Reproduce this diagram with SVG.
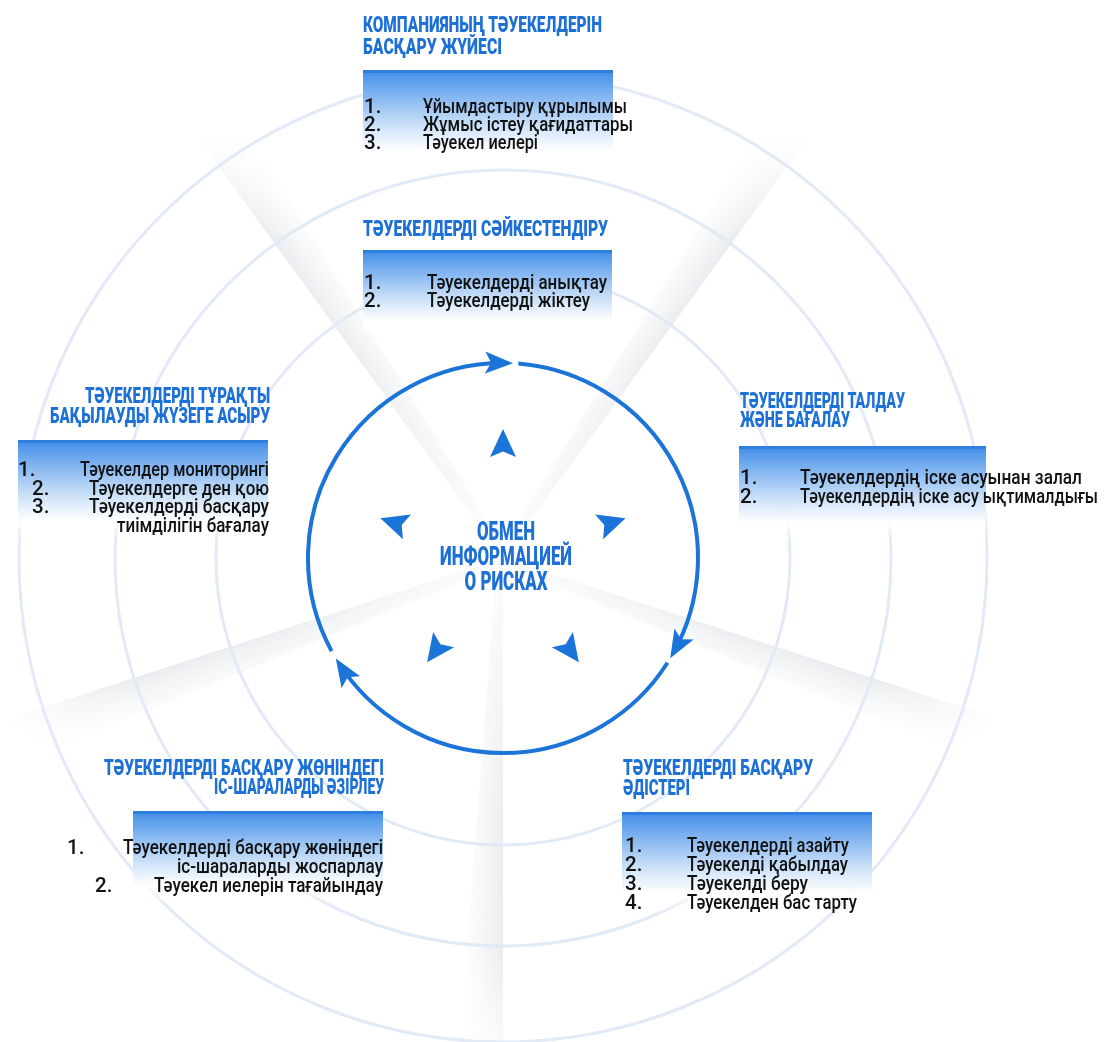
<svg xmlns="http://www.w3.org/2000/svg" width="1105" height="1042" viewBox="0 0 1105 1042">
<style>
.t{font-family:Roboto,"Liberation Sans",sans-serif;font-weight:900;font-size:22px;fill:#1d70d6}
.c{font-family:Roboto,"Liberation Sans",sans-serif;font-weight:900;font-size:25px;fill:#1d70d6;text-anchor:middle}
.i{font-family:Roboto,"Liberation Sans",sans-serif;font-weight:500;font-size:20.5px;fill:#111111}
.e{text-anchor:end}
.ring{fill:none;stroke:#e1eaf6;stroke-width:3}
.bar{fill:#2f7fe0}
.arc{fill:none;stroke:#1b74d8;stroke-width:4}
.ah{fill:#1b74d8}
</style>
<defs>
<linearGradient id="boxg" x1="0" y1="0" x2="0" y2="1">
<stop offset="0" stop-color="#438ee7"/>
<stop offset="0.15" stop-color="#69a6ee"/>
<stop offset="0.5" stop-color="#c2dbf7"/>
<stop offset="0.8" stop-color="#ffffff" stop-opacity="0.9"/>
<stop offset="1" stop-color="#ffffff" stop-opacity="0"/>
</linearGradient>
<linearGradient id="sg" x1="0" y1="0" x2="1" y2="0">
<stop offset="0" stop-color="#d3d8de" stop-opacity="0.5"/>
<stop offset="1" stop-color="#e8ebef" stop-opacity="0"/>
</linearGradient>
<radialGradient id="fade" gradientUnits="userSpaceOnUse" cx="503" cy="558" r="520">
<stop offset="0" stop-color="#222"/>
<stop offset="0.45" stop-color="#ddd"/>
<stop offset="0.75" stop-color="#fff"/>
<stop offset="1" stop-color="#000"/>
</radialGradient>
<mask id="sm" maskUnits="userSpaceOnUse" x="0" y="0" width="1105" height="1042">
<rect x="0" y="0" width="1105" height="1042" fill="url(#fade)"/>
</mask>
<polygon id="spoke" points="0,0 0,-520 46,-520 6,0"/>
<path id="ia" d="M0,-15 L13,13 L0,7.5 L-13,13 Z"/>
<marker id="m" viewBox="0 0 28 24" refX="23" refY="12" markerWidth="28" markerHeight="24" markerUnits="userSpaceOnUse" orient="auto">
<path d="M0,1 L28,12 L0,23 L6,12 Z" fill="#1b74d8"/>
</marker>
</defs>
<rect x="0" y="0" width="1105" height="1042" fill="#ffffff"/>
<g id="background">
<g mask="url(#sm)" fill="url(#sg)">
<use href="#spoke" transform="translate(503,558) rotate(36) scale(-1,1)"/>
<use href="#spoke" transform="translate(503,558) rotate(108)"/>
<use href="#spoke" transform="translate(503,558) rotate(180)"/>
<use href="#spoke" transform="translate(503,558) rotate(252) scale(-1,1)"/>
<use href="#spoke" transform="translate(503,558) rotate(324)"/>
</g>
<circle class="ring" cx="503" cy="558" r="287"/>
<circle class="ring" cx="503" cy="558" r="388"/>
<circle class="ring" cx="503" cy="558" r="484"/>
</g>
<g id="connectors">
<path class="arc" d="M331.6,651.1 A195,195 0 0 1 508.1,363.1" marker-end="url(#m)"/>
<path class="arc" d="M518.3,363.6 A195,195 0 0 1 672.7,654.0" marker-end="url(#m)"/>
<path class="arc" d="M667.5,662.8 A195,195 0 0 1 338.5,662.8" marker-end="url(#m)"/>
</g>
<g id="center">
<g class="ah">
<use href="#ia" transform="translate(503,558) rotate(0) translate(0,-114)"/>
<use href="#ia" transform="translate(503,558) rotate(72) translate(0,-114)"/>
<use href="#ia" transform="translate(503,558) rotate(144) translate(0,-114)"/>
<use href="#ia" transform="translate(503,558) rotate(216) translate(0,-114)"/>
<use href="#ia" transform="translate(503,558) rotate(288) translate(0,-114)"/>
</g>
<text class="c" x="506" y="540" textLength="58" lengthAdjust="spacingAndGlyphs">ОБМЕН</text>
<text class="c" x="506" y="565" textLength="132" lengthAdjust="spacingAndGlyphs">ИНФОРМАЦИЕЙ</text>
<text class="c" x="506" y="590" textLength="83" lengthAdjust="spacingAndGlyphs">О РИСКАХ</text>
</g>
<g id="node-system">
<text class="t" x="363" y="32" textLength="239" lengthAdjust="spacingAndGlyphs">КОМПАНИЯНЫҢ ТӘУЕКЕЛДЕРІН</text>
<text class="t" x="363" y="54" textLength="139" lengthAdjust="spacingAndGlyphs">БАСҚАРУ ЖҮЙЕСІ</text>
<rect x="363" y="71" width="250" height="100" fill="url(#boxg)"/>
<rect class="bar" x="363" y="70" width="250" height="3"/>
<text class="i" x="364" y="113">1.</text>
<text class="i" x="423" y="113" textLength="204" lengthAdjust="spacingAndGlyphs">Ұйымдастыру құрылымы</text>
<text class="i" x="364" y="131">2.</text>
<text class="i" x="423" y="131" textLength="210" lengthAdjust="spacingAndGlyphs">Жұмыс істеу қағидаттары</text>
<text class="i" x="364" y="149">3.</text>
<text class="i" x="423" y="149" textLength="115" lengthAdjust="spacingAndGlyphs">Тәуекел иелері</text>
</g>
<g id="node-identify">
<text class="t" x="363" y="236" textLength="245" lengthAdjust="spacingAndGlyphs">ТӘУЕКЕЛДЕРДІ СӘЙКЕСТЕНДІРУ</text>
<rect x="363" y="251" width="249" height="88" fill="url(#boxg)"/>
<rect class="bar" x="363" y="250" width="249" height="3"/>
<text class="i" x="364" y="289">1.</text>
<text class="i" x="427" y="289" textLength="180" lengthAdjust="spacingAndGlyphs">Тәуекелдерді анықтау</text>
<text class="i" x="364" y="307">2.</text>
<text class="i" x="427" y="307" textLength="163" lengthAdjust="spacingAndGlyphs">Тәуекелдерді жіктеу</text>
</g>
<g id="node-monitoring">
<text class="t e" x="270" y="403" textLength="185" lengthAdjust="spacingAndGlyphs">ТӘУЕКЕЛДЕРДІ ТҰРАҚТЫ</text>
<text class="t e" x="270" y="423" textLength="220" lengthAdjust="spacingAndGlyphs">БАҚЫЛАУДЫ ЖҮЗЕГЕ АСЫРУ</text>
<rect x="18" y="441" width="250" height="100" fill="url(#boxg)"/>
<rect class="bar" x="18" y="440" width="250" height="3"/>
<text class="i" x="18" y="476">1.</text>
<text class="i e" x="269" y="476" textLength="189" lengthAdjust="spacingAndGlyphs">Тәуекелдер мониторингі</text>
<text class="i" x="32" y="495">2.</text>
<text class="i e" x="269" y="495" textLength="180" lengthAdjust="spacingAndGlyphs">Тәуекелдерге ден қою</text>
<text class="i" x="32" y="513">3.</text>
<text class="i e" x="269" y="513" textLength="180" lengthAdjust="spacingAndGlyphs">Тәуекелдерді басқару</text>
<text class="i e" x="269" y="532" textLength="152" lengthAdjust="spacingAndGlyphs">тиімділігін бағалау</text>
</g>
<g id="node-analysis">
<text class="t" x="740" y="408" textLength="165" lengthAdjust="spacingAndGlyphs">ТӘУЕКЕЛДЕРДІ ТАЛДАУ</text>
<text class="t" x="740" y="427" textLength="110" lengthAdjust="spacingAndGlyphs">ЖӘНЕ БАҒАЛАУ</text>
<rect x="739" y="447" width="247" height="95" fill="url(#boxg)"/>
<rect class="bar" x="739" y="446" width="247" height="3"/>
<text class="i" x="740" y="484">1.</text>
<text class="i" x="800" y="484" textLength="282" lengthAdjust="spacingAndGlyphs">Тәуекелдердің іске асуынан залал</text>
<text class="i" x="740" y="503">2.</text>
<text class="i" x="800" y="503" textLength="298" lengthAdjust="spacingAndGlyphs">Тәуекелдердің іске асу ықтималдығы</text>
</g>
<g id="node-measures">
<text class="t e" x="384" y="775" textLength="280" lengthAdjust="spacingAndGlyphs">ТӘУЕКЕЛДЕРДІ БАСҚАРУ ЖӨНІНДЕГІ</text>
<text class="t e" x="384" y="794" textLength="170" lengthAdjust="spacingAndGlyphs">ІС-ШАРАЛАРДЫ ӘЗІРЛЕУ</text>
<rect x="133" y="812" width="250" height="92" fill="url(#boxg)"/>
<rect class="bar" x="133" y="811" width="250" height="3"/>
<text class="i" x="67" y="854">1.</text>
<text class="i e" x="383" y="854" textLength="260" lengthAdjust="spacingAndGlyphs">Тәуекелдерді басқару жөніндегі</text>
<text class="i e" x="383" y="873" textLength="206" lengthAdjust="spacingAndGlyphs">іс-шараларды жоспарлау</text>
<text class="i" x="95" y="892">2.</text>
<text class="i e" x="383" y="892" textLength="229" lengthAdjust="spacingAndGlyphs">Тәуекел иелерін тағайындау</text>
</g>
<g id="node-methods">
<text class="t" x="623" y="775" textLength="190" lengthAdjust="spacingAndGlyphs">ТӘУЕКЕЛДЕРДІ БАСҚАРУ</text>
<text class="t" x="623" y="795" textLength="67" lengthAdjust="spacingAndGlyphs">ӘДІСТЕРІ</text>
<rect x="622" y="813" width="250" height="100" fill="url(#boxg)"/>
<rect class="bar" x="622" y="812" width="250" height="3"/>
<text class="i" x="625" y="852">1.</text>
<text class="i" x="687" y="852" textLength="162" lengthAdjust="spacingAndGlyphs">Тәуекелдерді азайту</text>
<text class="i" x="625" y="871">2.</text>
<text class="i" x="687" y="871" textLength="161" lengthAdjust="spacingAndGlyphs">Тәуекелді қабылдау</text>
<text class="i" x="625" y="890">3.</text>
<text class="i" x="687" y="890" textLength="121" lengthAdjust="spacingAndGlyphs">Тәуекелді беру</text>
<text class="i" x="625" y="909">4.</text>
<text class="i" x="687" y="909" textLength="170" lengthAdjust="spacingAndGlyphs">Тәуекелден бас тарту</text>
</g>
</svg>
